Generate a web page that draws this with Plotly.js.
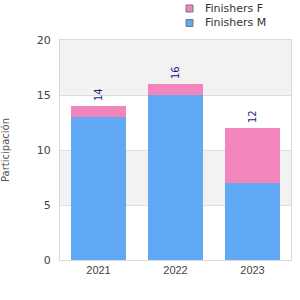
<!DOCTYPE html>
<html><head><meta charset="utf-8">
<script src="https://cdn.plot.ly/plotly-3.0.1.min.js"></script>
<style>html,body{margin:0;padding:0;background:#fff}#c{width:300px;height:300px}</style>
</head><body><div id="c"></div>
<script>
const years = ['2021', '2022', '2023'];
const finishersM = [13, 15, 7];
const finishersF = [1, 1, 5];
const seriesNames = ['Finishers F', 'Finishers M'];
const totals = years.map((_, i) => finishersM[i] + finishersF[i]);
const colorM = '#61a9f4';
const colorF = '#f385bd';
const legendColors = [colorF, colorM];

const traces = [
  {type: 'bar', x: years, y: finishersM, name: seriesNames[1], marker: {color: colorM}},
  {type: 'bar', x: years, y: finishersF, name: seriesNames[0], marker: {color: colorF}}
];

// plot area: x 60..291, y 40..260 (px)
const px = v => (v - 60) / 231;
const py = v => (260 - v) / 220;

const shapes = [[5, 10], [15, 20]].map(b => ({
  type: 'rect', xref: 'paper', yref: 'y', x0: 0, x1: 1, y0: b[0], y1: b[1],
  fillcolor: '#f2f2f2', line: {width: 0}, layer: 'below'
}));
const annotations = years.map((yr, i) => ({
  x: i, y: totals[i], xref: 'x', yref: 'y', text: String(totals[i]), textangle: -90,
  showarrow: false, xanchor: 'center', yanchor: 'bottom', yshift: 3,
  font: {family: 'DejaVu Sans, sans-serif', size: 10, color: '#1a1a8c'}
}));
seriesNames.forEach((n, i) => {
  const cy = 8.5 + i * 14.5;
  shapes.push({type: 'rect', xref: 'paper', yref: 'paper',
    x0: px(186), x1: px(193), y0: py(cy + 3.5), y1: py(cy - 3.5),
    fillcolor: legendColors[i], line: {color: '#777', width: 1}});
  annotations.push({xref: 'paper', yref: 'paper', x: px(203), y: py(cy), xanchor: 'left', yanchor: 'middle',
    text: n, showarrow: false, font: {family: 'DejaVu Sans, sans-serif', size: 11, color: '#333'}});
});

const layout = {
  width: 300, height: 300,
  margin: {l: 60, r: 9, t: 40, b: 40, autoexpand: false},
  paper_bgcolor: '#fff', plot_bgcolor: '#fff',
  barmode: 'stack', bargap: 0.29,
  font: {family: 'DejaVu Sans, sans-serif', size: 11, color: '#444'},
  showlegend: false,
  xaxis: {type: 'category', showline: true, mirror: true, linecolor: '#d9d9d9', linewidth: 1,
          ticks: '', automargin: false,
          tickfont: {family: 'Liberation Sans, Arial, sans-serif', size: 11, color: '#444'}},
  yaxis: {range: [0, 20], dtick: 5, showline: true, mirror: true, linecolor: '#d9d9d9', linewidth: 1,
          gridcolor: '#dddddd', zeroline: false, ticks: 'outside', ticklen: 6, tickcolor: 'rgba(0,0,0,0)',
          automargin: false,
          tickfont: {family: 'DejaVu Sans, sans-serif', size: 11, color: '#444'},
          title: {text: 'Participación', standoff: 30, font: {family: 'DejaVu Sans, sans-serif', size: 10, color: '#555'}}},
  shapes: shapes,
  annotations: annotations
};

Plotly.newPlot('c', traces, layout, {displayModeBar: false, staticPlot: true});
</script></body></html>
